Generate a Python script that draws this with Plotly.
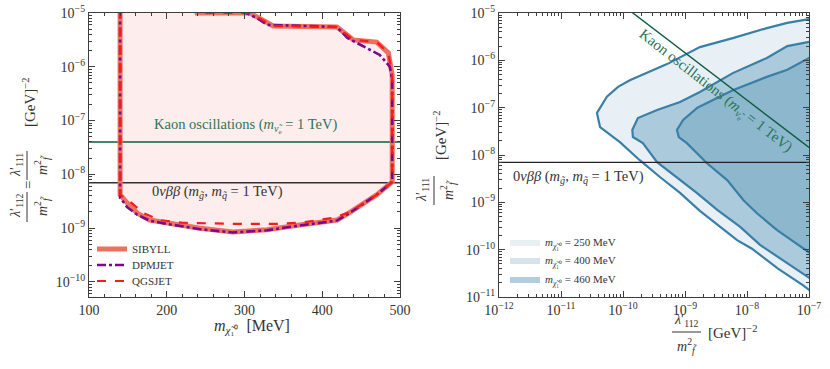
import numpy as np
import plotly.graph_objects as go

W, H = 830, 369
SERIF = "Liberation Serif"

# ---------------- left panel: excluded region vs neutralino mass ----------------
sib_mass = [140, 140, 149, 162, 178, 200, 243, 285, 329, 371, 419, 436, 470, 490,
            490, 485, 470, 440, 419, 337, 307, 239, 232, 140]
sib_log = [-4.6, -8.38, -8.53, -8.72, -8.85, -8.90, -9.00, -9.07, -9.03, -8.94, -8.85, -8.70, -8.38, -8.14,
           -6.15, -5.74, -5.54, -5.50, -5.26, -5.24, -5.00, -5.00, -4.6, -4.6]

dpm_mass = [140, 140, 144, 149, 162, 178, 200, 243, 285, 329, 371, 419, 436, 470, 490,
            490, 487, 474, 449, 432, 419, 329, 316, 298, 140]
dpm_log = [-4.6, -8.44, -8.51, -8.61, -8.75, -8.86, -8.92, -9.02, -9.08, -9.04, -8.95, -8.86, -8.71, -8.38, -8.14,
           -6.25, -6.00, -5.78, -5.59, -5.46, -5.26, -5.22, -5.09, -4.98, -4.6]

qgs_mass = [140, 140, 153, 170, 191, 221, 285, 342, 371, 414, 436, 470, 490,
            490, 485, 470, 440, 419, 337, 307, 239, 232, 140]
qgs_log = [-4.6, -8.38, -8.51, -8.72, -8.85, -8.90, -8.92, -8.92, -8.90, -8.81, -8.70, -8.38, -8.14,
           -6.15, -5.74, -5.54, -5.50, -5.26, -5.24, -5.00, -5.00, -4.6, -4.6]

kaon_left = 4.0e-8
dbd_bound = 7.0e-9
mass_range = [100, 500]

# ---------------- right panel: lambda'112 vs lambda'111 ----------------
m250_x = [-6.9, -7.00, -7.35, -7.68, -8.23, -8.76, -9.29, -9.61, -9.89, -10.08, -10.26, -10.42,
          -10.37, -10.05, -9.73, -9.40, -9.08, -8.76, -8.44, -8.16, -7.92, -7.50, -7.10, -7.00, -6.9]
m250_y = [-5.10, -5.13, -5.21, -5.32, -5.53, -5.72, -6.08, -6.27, -6.42, -6.56, -6.77, -7.11,
          -7.41, -7.73, -8.11, -8.47, -8.80, -9.18, -9.52, -9.80, -9.98, -10.40, -10.75, -10.85, -10.95]

m400_x = [-6.9, -7.00, -7.35, -7.68, -8.23, -8.76, -9.08, -9.45, -9.76, -9.85,
          -9.84, -9.68, -9.45, -9.08, -8.81, -8.48, -8.11, -7.79, -7.40, -7.00, -6.9]
m400_y = [-5.59, -5.61, -5.70, -5.95, -6.27, -6.67, -6.88, -7.05, -7.22, -7.47,
          -7.62, -7.75, -8.15, -8.53, -8.80, -9.16, -9.52, -9.90, -10.25, -10.60, -10.68]

m460_x = [-6.9, -7.00, -7.35, -7.68, -8.23, -8.80, -9.03, -9.13,
          -9.10, -8.97, -8.65, -8.32, -8.06, -7.84, -7.52, -7.00, -6.9]
m460_y = [-5.93, -5.95, -6.20, -6.35, -6.63, -7.00, -7.26, -7.47,
          -7.62, -7.75, -8.17, -8.53, -8.95, -9.23, -9.58, -10.07, -10.15]

kaon_right_x = [1e-10, 1e-7]
kaon_right_y = [10 ** -4.84, 10 ** -7.84]
lam_range = [1e-12, 1e-7]

contours = [
    ("250", m250_x, m250_y, "#e8f0f5", "#e9f0f4"),
    ("400", m400_x, m400_y, "#abcadb", "#d5e4ec"),
    ("460", m460_x, m460_y, "#8db7cc", "#b0cedd"),
]


def fx(x):
    return x / W


def fy(y):
    return 1 - y / H


fig = go.Figure()

# left fill + bounds
fig.add_trace(go.Scatter(x=sib_mass, y=np.power(10.0, sib_log), mode="lines", fill="toself",
                         fillcolor="#fdeded", line=dict(width=0), showlegend=False,
                         xaxis="x", yaxis="y", hoverinfo="skip"))
fig.add_trace(go.Scatter(x=mass_range, y=[kaon_left] * 2, mode="lines", line=dict(color="#0d5c42", width=1.4),
                         showlegend=False, xaxis="x", yaxis="y"))
fig.add_trace(go.Scatter(x=mass_range, y=[dbd_bound] * 2, mode="lines", line=dict(color="#333333", width=1.4),
                         showlegend=False, xaxis="x", yaxis="y"))
fig.add_trace(go.Scatter(x=sib_mass, y=np.power(10.0, sib_log), mode="lines", name="SIBYLL",
                         line=dict(color="#f0705f", width=5), xaxis="x", yaxis="y", legend="legend"))
fig.add_trace(go.Scatter(x=dpm_mass, y=np.power(10.0, dpm_log), mode="lines", name="DPMJET",
                         line=dict(color="#7a0a8c", width=2.6, dash="dashdot"), xaxis="x", yaxis="y",
                         legend="legend3"))
fig.add_trace(go.Scatter(x=qgs_mass, y=np.power(10.0, qgs_log), mode="lines", name="QGSJET",
                         line=dict(color="#f21d1d", width=2.2, dash="dash"), xaxis="x", yaxis="y",
                         legend="legend4"))

# right contours
for m, cx, cy, fc, lc in contours:
    fig.add_trace(go.Scatter(x=np.power(10.0, cx), y=np.power(10.0, cy), mode="lines", fill="toself",
                             fillcolor=fc, line=dict(color="#3a7fa7", width=2.2), showlegend=False,
                             xaxis="x2", yaxis="y2", hoverinfo="skip"))
for (m, cx, cy, fc, lc), lg in zip(contours, ["legend2", "legend5", "legend6"]):
    fig.add_trace(go.Scatter(x=[None], y=[None], mode="lines", fill="toself", fillcolor=lc,
                             line=dict(width=0, color=lc),
                             name="<i>m</i><sub><i>χ̃</i>₁⁰</sub> = %s MeV" % m,
                             xaxis="x2", yaxis="y2", legend=lg))
fig.add_trace(go.Scatter(x=lam_range, y=[dbd_bound] * 2, mode="lines", line=dict(color="#222222", width=1.4),
                         showlegend=False, xaxis="x2", yaxis="y2"))
fig.add_trace(go.Scatter(x=kaon_right_x, y=kaon_right_y, mode="lines", line=dict(color="#0d5c42", width=1.4),
                         showlegend=False, xaxis="x2", yaxis="y2"))

AX = "#3d3d3d"
base = dict(showline=True, linecolor=AX, linewidth=1.3, mirror="ticks", ticks="inside", ticklen=6,
            tickcolor=AX, tickwidth=1, showgrid=False, zeroline=False, automargin=False,
            tickfont=dict(family=SERIF, size=14, color="#333333"))


def sup(e):
    return "10<sup>−%d</sup>" % e


def leg(x, y, size=11):
    return dict(x=fx(x), y=fy(y), xanchor="left", yanchor="middle", bgcolor="rgba(0,0,0,0)",
                font=dict(family=SERIF, size=size, color="#333333"), tracegroupgap=0)


ydom = [fy(297), fy(13)]
fig.update_layout(
    width=W, height=H, margin=dict(l=0, r=0, t=0, b=0),
    paper_bgcolor="white", plot_bgcolor="white",
    font=dict(family=SERIF, color="#333333"),
    xaxis=dict(base, domain=[fx(89), fx(400)], range=mass_range, dtick=100,
               minor=dict(ticks="inside", ticklen=3, dtick=20, tickcolor=AX)),
    yaxis=dict(base, domain=ydom, type="log", range=[-10.28, -5],
               tickvals=[10.0 ** -e for e in range(5, 11)], ticktext=[sup(e) for e in range(5, 11)],
               minor=dict(ticks="inside", ticklen=3, dtick="D1", tickcolor=AX)),
    xaxis2=dict(base, domain=[fx(499), fx(809)], type="log", range=[-12, -7], anchor="y2",
                tickvals=[10.0 ** -e for e in range(7, 13)], ticktext=[sup(e) for e in range(7, 13)],
                minor=dict(ticks="inside", ticklen=3, dtick="D1", tickcolor=AX)),
    yaxis2=dict(base, domain=ydom, type="log", range=[-11, -5], anchor="x2",
                tickvals=[10.0 ** -e for e in range(5, 12)], ticktext=[sup(e) for e in range(5, 12)],
                minor=dict(ticks="inside", ticklen=3, dtick="D1", tickcolor=AX)),
    legend=leg(92, 249), legend3=leg(92, 265), legend4=leg(92, 281),
    legend2=leg(505, 242), legend5=leg(505, 260), legend6=leg(505, 279),
)


def ann(x, y, text, size=14, angle=0, color="#333333", xanchor="center"):
    fig.add_annotation(x=fx(x), y=fy(y), xref="paper", yref="paper", text=text, showarrow=False,
                       textangle=angle, xanchor=xanchor, yanchor="middle",
                       font=dict(family=SERIF, size=size, color=color))


def bar(x0, y0, x1, y1):
    fig.add_shape(type="line", xref="paper", yref="paper", x0=fx(x0), x1=fx(x1), y0=fy(y0), y1=fy(y1),
                  line=dict(color="#333333", width=1))


MF = "<i>m</i><sup>2</sup><sub><i>f̃</i></sub>"
GREEN = "#2c7657"
KAON = "Kaon oscillations (<i>m</i><sub><i>ν̃</i><sub>e</sub></sub> = 1 TeV)"
DBD = "0<i>νββ</i> (<i>m</i><sub><i>g̃</i></sub>, <i>m</i><sub><i>q̃</i></sub> = 1 TeV)"

# in-plot labels
ann(245, 126, KAON, size=14.5, color=GREEN)
ann(217, 192, DBD, size=14.5)
ann(511, 177, DBD, size=14.5, xanchor="left")
ann(715, 92, KAON, size=15, angle=38, color=GREEN)

# left axis titles
ann(252, 326, "<i>m</i><sub><i>χ̃</i>₁⁰</sub>  [MeV]", size=16)
ann(16, 206, "<i>λ</i>′<sub>112</sub>", size=14, angle=-90)
bar(27, 192, 27, 222)
ann(42, 206, MF, size=14, angle=-90)
ann(28, 185, "=", size=15, angle=-90)
ann(16, 165, "<i>λ</i>′<sub>111</sub>", size=14, angle=-90)
bar(27, 151, 27, 180)
ann(42, 165, MF, size=14, angle=-90)
ann(29, 102, "[GeV]<sup>−2</sup>", size=15, angle=-90)

# right axis titles
ann(422, 190, "<i>λ</i>′<sub>111</sub>", size=14, angle=-90)
bar(434, 176, 434, 205)
ann(448, 190, MF, size=14, angle=-90)
ann(440, 135, "[GeV]<sup>−2</sup>", size=15, angle=-90)

ann(686, 320, "<i>λ</i>′<sub>112</sub>", size=14)
bar(672, 332, 701, 332)
ann(687, 346, MF, size=14)
ann(706, 332, "[GeV]<sup>−2</sup>", size=15, xanchor="left")

# the page body has a default 8px margin; drop it so the figure sits at the window's corner
fig.write_html("out.html", config={"displayModeBar": False},
               post_script="document.body.style.margin='0px';")
